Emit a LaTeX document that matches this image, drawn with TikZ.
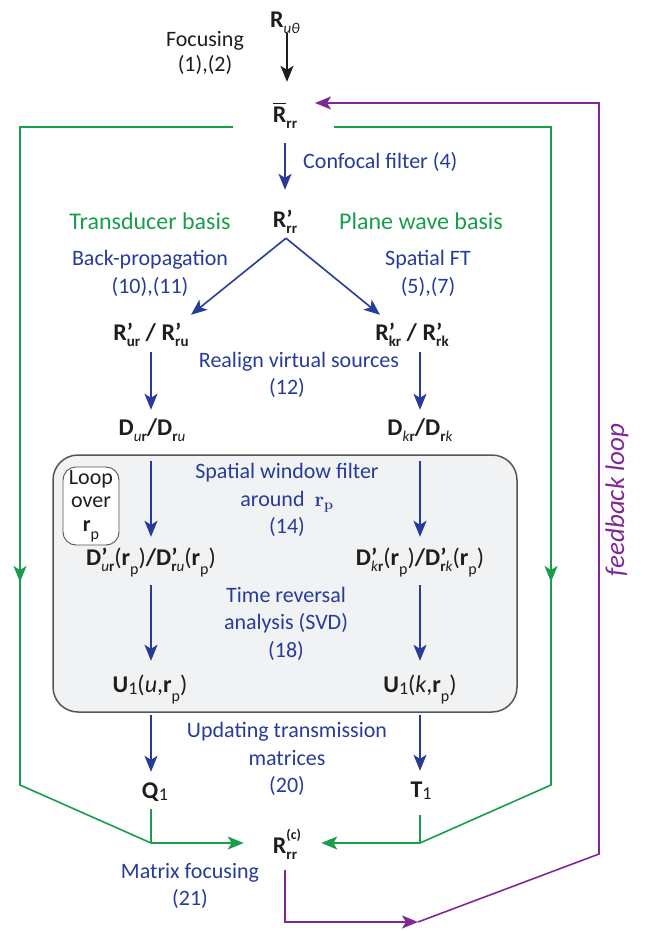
\documentclass[tikz,border=0pt]{standalone}
\usepackage[no-math]{fontspec}
\setmainfont{Carlito}
\usetikzlibrary{arrows.meta,calc}
\definecolor{cblue}{RGB}{38,60,152}
\definecolor{cgreen}{RGB}{24,158,74}
\definecolor{cpurple}{RGB}{128,40,150}
\definecolor{cboxfill}{RGB}{241,242,244}
\definecolor{cboxdraw}{RGB}{85,85,85}
\definecolor{ctext}{RGB}{30,30,30}
\newcommand\sbx[1]{\raisebox{-0.25em}{\fontsize{15}{15}\selectfont #1}}
\newcommand\sbp[1]{\raisebox{-0.38em}{\fontsize{16}{16}\selectfont #1}}
\newcommand\sbo[1]{\raisebox{-0.1em}{\fontsize{18}{18}\selectfont #1}}
\newcommand\pr{\rlap{’}}
\newcommand\ovl[1]{\begingroup\setbox0\hbox{#1}\rlap{\raisebox{\dimexpr\ht0+2.2pt\relax}{\rule{\wd0}{1.7pt}}}\box0\endgroup}
\begin{document}
\begin{tikzpicture}[x=1pt,y=-1pt,line join=miter,
  mat/.style={inner sep=0pt,anchor=base,text=ctext,text height=17pt,text depth=6pt,font=\fontsize{24}{28}\selectfont},
  lbl/.style={inner sep=0pt,text=cblue,align=center,font=\fontsize{22}{27.5}\selectfont},
  basis/.style={inner sep=0pt,text=cgreen,font=\fontsize{24}{28}\selectfont},
  tipA/.style={-{Stealth[length=16pt,width=13pt,inset=4pt]}},
  barr/.style={cblue,line width=1.6pt,tipA},
  karr/.style={ctext,line width=1.6pt,tipA},
  gline/.style={cgreen,line width=1.6pt},
  garr/.style={cgreen,line width=1.6pt,tipA},
  parr/.style={cpurple,line width=1.6pt,tipA}]
\useasboundingbox (0,0) rectangle (659,931);

% grey box
\node[draw=cboxdraw,fill=cboxfill,rounded corners=25pt,line width=1.5pt,
      minimum width=464pt,minimum height=257pt,inner sep=0pt] (box) at (285,583.5) {};
\node[draw=cboxdraw,fill=white,rounded corners=13pt,line width=0.9pt,
      minimum width=56pt,minimum height=78pt,inner sep=0pt,align=center,text=ctext,
      font=\fontsize{22}{23.5}\selectfont] (loop) at (91,506) {Loop\\over\\\textbf{r}\sbp{p}};

% matrices
\node[mat] (Ruth) at (285,28) {\textbf{R}\sbx{\textit{uθ}}};
\node[mat] (Rbar) at (285,122) {\ovl{\textbf{R}}\sbx{\textbf{rr}}};
\node[mat] (Rp) at (285,227) {\textbf{R\pr}\sbx{\textbf{rr}}};
\node[mat] (Rur) at (151,340) {\textbf{R\pr}\sbx{\textbf{ur}} \textbf{/} \textbf{R\pr}\sbx{\textbf{ru}}};
\node[mat] (Rkr) at (412,340) {\textbf{R\pr}\sbx{\textbf{kr}} \textbf{/} \textbf{R\pr}\sbx{\textbf{rk}}};
\node[mat] (Dur) at (152,435) {\textbf{D}\sbx{\textit{u}\textbf{r}}\textbf{/D}\sbx{\textbf{r}\textit{u}}};
\node[mat] (Dkr) at (420,435) {\textbf{D}\sbx{\textit{k}\textbf{r}}\textbf{/D}\sbx{\textbf{r}\textit{k}}};
\node[mat] (Dpu) at (151,565) {\textbf{D\pr}\sbx{\textit{u}\textbf{r}}(\textbf{r}\sbp{p})\textbf{/D\pr}\sbx{\textbf{r}\textit{u}}(\textbf{r}\sbp{p})};
\node[mat] (Dpk) at (420,565) {\textbf{D\pr}\sbx{\textit{k}\textbf{r}}(\textbf{r}\sbp{p})\textbf{/D\pr}\sbx{\textbf{r}\textit{k}}(\textbf{r}\sbp{p})};
\node[mat] (Uu) at (150,692) {\textbf{U}\sbo{1}(\textit{u},\textbf{r}\sbp{p})};
\node[mat] (Uk) at (420,692) {\textbf{U}\sbo{1}(\textit{k},\textbf{r}\sbp{p})};
\node[mat] (Q1) at (155,798) {\textbf{Q}\sbo{1}};
\node[mat] (T1) at (421,797) {\textbf{T}\sbo{1}};
\node[mat] (Rc) at (285,853) {\textbf{R}\rlap{\raisebox{0.55em}{\fontsize{14}{14}\selectfont\bfseries (c)}}\sbx{\textbf{rr}}\hspace{4pt}};

% labels
\node[inner sep=0pt,text=ctext,align=center,font=\fontsize{22}{25}\selectfont] (foc) at (205,53) {Focusing\\(1),(2)};
\node[lbl,anchor=west] (conf) at (303,162) {Confocal filter (4)};
\node[basis] (tb) at (150,221) {Transducer basis};
\node[basis] (pw) at (421,221) {Plane wave basis};
\node[lbl] (bp) at (150,273.5) {Back-propagation\\(10),(11)};
\node[lbl] (sft) at (428,273.5) {Spatial FT\\(5),(7)};
\node[lbl] (rvs) at (299,362) {Realign virtual sources};
\node[lbl] (rvsn) at (287,388) {(12)};
\node[lbl] (swf) at (287,500) {Spatial window filter\\around~~$\mathbf{r}_{\mathbf{p}}$\\(14)};
\node[lbl] (tra) at (286,623.5) {Time reversal\\analysis (SVD)\\(18)};
\node[lbl] (utm) at (287,759) {Updating transmission\\matrices\\(20)};
\node[lbl] (mf) at (190,886) {Matrix focusing\\(21)};
\node[rotate=90,inner sep=0pt,text=cpurple,font=\fontsize{27}{30}\selectfont\itshape] (fb) at (617,500) {feedback loop};

% vertical chain
\draw[karr,shorten <=-1pt,shorten >=23pt] (Ruth.south -| 287,0) -- (Rbar.north -| 287,0);
\draw[barr,shorten <=15pt,shorten >=20pt] (Rbar.south) -- (Rp.north);
\draw[barr] ($(Rp.south)+(1,5)$) -- ($(Rur.north)+(40,-8)$);
\draw[barr] ($(Rp.south)+(1,5)$) -- ($(Rkr.north)+(-32,-8)$);
\draw[barr,shorten <=6pt,shorten >=8pt] (Rur.south) -- (Dur.north -| Rur.south);
\draw[barr,shorten <=6pt,shorten >=8pt] (Rkr.south -| Dkr.north) -- (Dkr.north);
\draw[barr,shorten <=20pt,shorten >=11pt] (Dur.south -| Rur.south) -- (Dpu.north);
\draw[barr,shorten <=20pt,shorten >=11pt] (Dkr.south) -- (Dpk.north);
\draw[barr,shorten <=14pt,shorten >=14pt] (Dpu.south) -- (Uu.north -| Dpu.south);
\draw[barr,shorten <=14pt,shorten >=14pt] (Dpk.south) -- (Uk.north);
\draw[barr,shorten <=17pt,shorten >=9pt] (Uu.south -| Dpu.south) -- (Q1.north -| Dpu.south);
\draw[barr,shorten <=17pt,shorten >=9pt] (Uk.south) -- (T1.north -| Uk.south);

% green paths
\coordinate (gL0) at (233,127);
\coordinate (gL1) at (20,127);
\coordinate (gL2) at (20,785);
\coordinate (gL3) at (151,843);
\coordinate (gLa) at (20,540);
\coordinate (gLb) at (20,582);
\coordinate (gR0) at (334,127);
\coordinate (gR1) at (551,127);
\coordinate (gR2) at (551,785);
\coordinate (gR3) at (420,843);
\coordinate (gRa) at (551,540);
\coordinate (gRb) at (551,582);
\draw[gline] (gL0) -- (gL1) -- (gL2) -- (gL3);
\draw[garr,shorten >=29pt] (gL3) -- (gL3 -| Rc.west);
\draw[gline,shorten <=5pt] (gL3 |- Q1.south) -- (gL3);
\draw[garr] (gLa) -- (gLb);
\draw[gline] (gR0) -- (gR1) -- (gR2) -- (gR3);
\draw[garr,shorten >=24pt] (gR3) -- (gR3 -| Rc.east);
\draw[gline,shorten <=12pt] (gR3 |- T1.south) -- (gR3);
\draw[garr] (gRa) -- (gRb);

% purple feedback
\coordinate (p1) at (285,922);
\coordinate (p2) at (418,922);
\coordinate (p3) at (599,854);
\coordinate (p4) at (599,103);
\coordinate (p5) at (315,103);
\draw[parr,shorten <=11pt] (Rc.south) -- (p1) -- (p2);
\draw[parr] (p2) -- (p3) -- (p4) -- (p5);
\end{tikzpicture}
\end{document}
